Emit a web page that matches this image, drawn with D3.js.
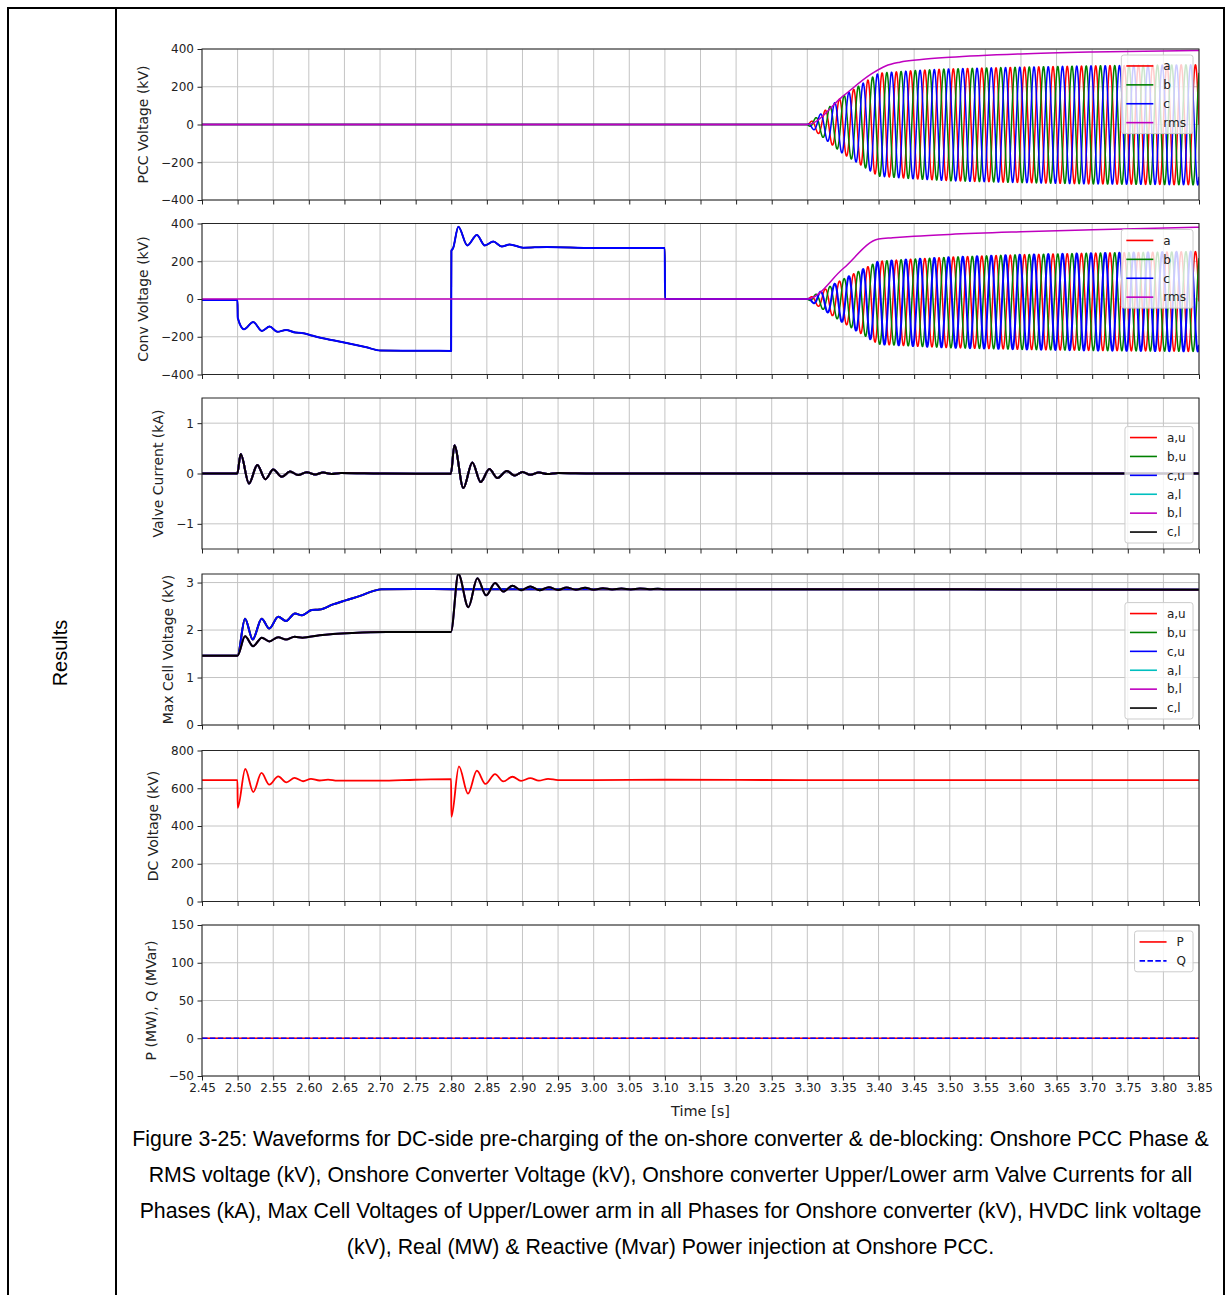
<!DOCTYPE html>
<html>
<head>
<meta charset="utf-8">
<script src="https://cdn.jsdelivr.net/npm/d3@7.8.5/dist/d3.min.js"></script>
<style>
  html, body { margin: 0; padding: 0; background: #fff; }
  svg { display: block; }
</style>
</head>
<body>
<div id="figure"></div>
<script>
// ---------- values ----------
const timeTicks = [2.45, 2.50, 2.55, 2.60, 2.65, 2.70, 2.75, 2.80, 2.85, 2.90, 2.95, 3.00, 3.05, 3.10,
  3.15, 3.20, 3.25, 3.30, 3.35, 3.40, 3.45, 3.50, 3.55, 3.60, 3.65, 3.70, 3.75, 3.80, 3.85];

// AC side (50 Hz) switches in at 3.30 s; envelopes of the phase waves
const acFreq = 50;
const acStart = 3.30;
const envTime   = [3.30, 3.35, 3.40, 3.45, 3.50, 3.60, 3.70, 3.85];
const pccUpper  = [0, 150, 272, 286, 295, 304, 311, 317];
const pccLower  = [0, -155, -274, -288, -298, -308, -315, -320];
const convUpper = [0, 105, 200, 212, 222, 235, 243, 252];
const convLower = [0, -125, -240, -250, -258, -267, -273, -278];

// PCC voltage before energisation and rms values
const pccPreTime = [2.45, 3.30];
const pccPre     = [0, 0];
const pccRmsTime = [2.45, 3.30, 3.35, 3.39, 3.41, 3.43, 3.46, 3.50, 3.60, 3.70, 3.85];
const pccRms     = [0, 0, 150, 268, 310, 330, 344, 356, 374, 384, 392];

// converter voltage during DC-side pre-charging (all three phases equal)
const convDcTime = [2.45, 2.4998, 2.5002, 2.509, 2.522, 2.534, 2.545, 2.556, 2.568, 2.581, 2.59, 2.606,
  2.625, 2.653, 2.681, 2.70, 2.75, 2.7998, 2.8002, 2.8025, 2.810, 2.8225, 2.836, 2.847, 2.859, 2.871,
  2.882, 2.901, 2.934, 3.00, 3.0998, 3.1002, 3.30];
const convDc = [-5, -5, -100, -160, -122, -169, -146, -174, -164, -178, -180, -195,
  -212, -233, -256, -273, -274, -275, 255, 268, 383, 284, 339, 284, 304, 278,
  289, 272, 276, 270, 270, 0, 0];
const convRmsTime = [2.45, 3.30, 3.35, 3.40, 3.42, 3.45, 3.50, 3.60, 3.70, 3.85];
const convRms     = [0, 0, 160, 318, 324, 332, 342, 356, 367, 380];

// arm valve currents (all six arms overlap)
const valveTime = [2.45, 2.4995, 2.5043, 2.516, 2.5277, 2.539, 2.550, 2.562, 2.5736, 2.585, 2.597, 2.609,
  2.62, 2.632, 2.645, 2.70, 2.75, 2.7995, 2.8044, 2.817, 2.8296, 2.8413, 2.8535, 2.8647, 2.878, 2.889,
  2.90, 2.911, 2.923, 2.935, 2.95, 3.00, 3.85];
const valveCurrent = [0, 0, 0.385, -0.20, 0.17, -0.115, 0.08, -0.067, 0.04, -0.03, 0.027, -0.02,
  0.02, -0.01, 0.01, 0.0, -0.005, -0.005, 0.56, -0.29, 0.22, -0.17, 0.09, -0.09, 0.05, -0.04,
  0.03, -0.025, 0.02, -0.012, 0.01, 0.0, 0.0];

// max cell voltages, upper arms and lower arms
const cellUpperTime = [2.45, 2.4998, 2.5104, 2.5212, 2.5338, 2.5445, 2.557, 2.568, 2.5806, 2.59, 2.604,
  2.615, 2.634, 2.653, 2.672, 2.690, 2.702, 2.75, 2.80, 3.30, 3.85];
const cellUpper = [1.46, 1.46, 2.24, 1.80, 2.24, 2.03, 2.28, 2.19, 2.35, 2.31, 2.42,
  2.43, 2.54, 2.63, 2.72, 2.82, 2.86, 2.865, 2.86, 2.86, 2.85];
const cellLowerTime = [2.45, 2.4998, 2.5104, 2.5218, 2.534, 2.5445, 2.557, 2.568, 2.58, 2.591, 2.615,
  2.662, 2.709, 2.7995, 2.810, 2.824, 2.8366, 2.849, 2.8615, 2.873, 2.886, 2.898, 2.911, 2.924, 2.937,
  2.950, 2.962, 2.975, 2.988, 3.000, 3.013, 3.026, 3.039, 3.052, 3.065, 3.078, 3.09, 3.10, 3.30, 3.85];
const cellLower = [1.46, 1.46, 1.87, 1.66, 1.84, 1.76, 1.85, 1.80, 1.86, 1.84, 1.89,
  1.94, 1.96, 1.96, 3.18, 2.48, 3.09, 2.73, 2.99, 2.81, 2.93, 2.84, 2.915, 2.84, 2.90,
  2.845, 2.895, 2.85, 2.89, 2.85, 2.88, 2.855, 2.875, 2.855, 2.875, 2.86, 2.87, 2.86, 2.86, 2.85];

// HVDC link voltage
const dcTime = [2.45, 2.4998, 2.5001, 2.5108, 2.522, 2.5335, 2.5445, 2.557, 2.5685, 2.58, 2.592, 2.603,
  2.615, 2.627, 2.64, 2.70, 2.75, 2.7998, 2.8002, 2.8108, 2.8235, 2.836, 2.848, 2.8615, 2.873, 2.886,
  2.898, 2.911, 2.923, 2.936, 2.95, 3.00, 3.10, 3.30, 3.85];
const dcVoltage = [643, 643, 496, 702, 580, 681, 619, 663, 631, 655, 637, 650,
  641, 646, 640, 640, 645, 648, 449, 716, 571, 693, 623, 675, 636, 661,
  639, 654, 640, 650, 643, 643, 645, 643, 643];

// PCC power injection
const powerTime = [2.45, 3.85];
const realPower = [0, 0];
const reactivePower = [0, 0];

const captionLines = [
  'Figure 3-25: Waveforms for DC-side pre-charging of the on-shore converter & de-blocking: Onshore PCC Phase &',
  'RMS voltage (kV), Onshore Converter Voltage (kV), Onshore converter Upper/Lower arm Valve Currents for all',
  'Phases (kA), Max Cell Voltages of Upper/Lower arm in all Phases for Onshore converter (kV), HVDC link voltage',
  '(kV), Real (MW) & Reactive (Mvar) Power injection at Onshore PCC.'
];

const phaseShift = { a: 0, b: -2 * Math.PI / 3, c: 2 * Math.PI / 3 };

class WaveformFigure {
  constructor() {
    this.width = 1227;
    this.height = 1295;
    this.plotLeft = 202;
    this.plotRight = 1199;
    this.panelTops = [49, 223.5, 398, 574, 750.5, 925];
    this.panelHeight = 151;
    this.colors = { r: '#ff0000', g: '#008000', b: '#0000ff', c: '#00bfbf', m: '#bf00bf', k: '#000000' };
    this.x = d3.scaleLinear().domain([2.45, 3.85]).range([this.plotLeft, this.plotRight]);
    this.init();
  }

  init() {
    this.setupSVG();
    this.drawTable();
    this.buildPanels().forEach((p, i) => this.drawPanel(p, i));
    this.drawCaption();
  }

  setupSVG() {
    this.svg = d3.select('#figure')
      .append('svg')
      .attr('width', this.width)
      .attr('height', this.height);
    this.svg.append('rect').attr('width', this.width).attr('height', this.height).attr('fill', '#fff');
    this.defs = this.svg.append('defs');
  }

  drawTable() {
    const g = this.svg.append('g').attr('stroke', '#000').attr('stroke-width', 2);
    g.append('line').attr('x1', 7).attr('x2', 1225).attr('y1', 8).attr('y2', 8);
    g.append('line').attr('x1', 8).attr('x2', 8).attr('y1', 7).attr('y2', this.height);
    g.append('line').attr('x1', 116).attr('x2', 116).attr('y1', 7).attr('y2', this.height);
    g.append('line').attr('x1', 1224).attr('x2', 1224).attr('y1', 7).attr('y2', this.height);

    this.svg.append('text')
      .attr('transform', 'translate(67,653) rotate(-90)')
      .attr('text-anchor', 'middle')
      .style('font-family', "'Liberation Sans', Arial, sans-serif")
      .style('font-size', '20px')
      .text('Results');
  }

  zip(ts, vs) {
    return ts.map((t, i) => [t, vs[i]]);
  }

  // phase wave between upper/lower envelopes after the AC side is switched in
  acWave(shift, upper, lower) {
    const up = d3.scaleLinear().domain(envTime).range(upper);
    const lo = d3.scaleLinear().domain(envTime).range(lower);
    const w = 2 * Math.PI * acFreq;
    return d3.range(acStart + 0.0002, 3.85 + 1e-9, 0.0002).map(t => {
      const mid = (up(t) + lo(t)) / 2, half = (up(t) - lo(t)) / 2;
      return [t, mid + half * Math.sin(w * (t - acStart) + shift)];
    });
  }

  buildPanels() {
    const pcc = k => this.zip(pccPreTime, pccPre).concat(this.acWave(phaseShift[k], pccUpper, pccLower));
    const conv = k => this.zip(convDcTime, convDc).concat(this.acWave(phaseShift[k], convUpper, convLower));
    const valve = this.zip(valveTime, valveCurrent);
    const up = this.zip(cellUpperTime, cellUpper);
    const low = this.zip(cellLowerTime, cellLower);
    const C = this.colors;
    const armLabels = ['a,u', 'b,u', 'c,u', 'a,l', 'b,l', 'c,l'];
    const armColors = [C.r, C.g, C.b, C.c, C.m, C.k];

    return [
      {
        label: 'PCC Voltage (kV)', domain: [-400, 400], ticks: [-400, -200, 0, 200, 400], legendLoc: 'upper',
        series: [
          { name: 'a', color: C.r, data: pcc('a') },
          { name: 'b', color: C.g, data: pcc('b') },
          { name: 'c', color: C.b, data: pcc('c') },
          { name: 'rms', color: C.m, data: this.zip(pccRmsTime, pccRms) }
        ]
      },
      {
        label: 'Conv Voltage (kV)', domain: [-400, 400], ticks: [-400, -200, 0, 200, 400], legendLoc: 'upper',
        series: [
          { name: 'a', color: C.r, data: conv('a') },
          { name: 'b', color: C.g, data: conv('b') },
          { name: 'c', color: C.b, data: conv('c'), width: 2 },
          { name: 'rms', color: C.m, data: this.zip(convRmsTime, convRms) }
        ]
      },
      {
        label: 'Valve Current (kA)', domain: [-1.5, 1.5], ticks: [-1, 0, 1], legendLoc: 'lower',
        series: armLabels.map((n, i) => ({ name: n, color: armColors[i], data: valve, width: 2 }))
      },
      {
        label: 'Max Cell Voltage (kV)', domain: [0, 3.18], ticks: [0, 1, 2, 3], legendLoc: 'lower',
        series: armLabels.map((n, i) => ({ name: n, color: armColors[i], data: i < 3 ? up : low, width: 2 }))
      },
      {
        label: 'DC Voltage (kV)', domain: [0, 800], ticks: [0, 200, 400, 600, 800], legendLoc: null,
        series: [{ name: 'dc', color: C.r, data: this.zip(dcTime, dcVoltage), width: 1.8 }]
      },
      {
        label: 'P (MW), Q (MVar)', domain: [-50, 150], ticks: [-50, 0, 50, 100, 150], legendLoc: 'upper',
        xLabels: true,
        series: [
          { name: 'P', color: C.r, data: this.zip(powerTime, realPower) },
          { name: 'Q', color: C.b, data: this.zip(powerTime, reactivePower), dash: '5.5,2.4' }
        ]
      }
    ];
  }

  drawPanel(p, i) {
    const top = this.panelTops[i], bottom = top + this.panelHeight;
    const y = d3.scaleLinear().domain(p.domain).range([bottom, top]);
    const g = this.svg.append('g').attr('class', 'panel');
    const fmt = d => (d < 0 ? '\u2212' : '') + Math.abs(d);

    // grid
    g.append('g').selectAll('line').data(timeTicks).enter().append('line')
      .attr('x1', d => this.x(d)).attr('x2', d => this.x(d))
      .attr('y1', top).attr('y2', bottom)
      .attr('stroke', '#c4c4c4').attr('stroke-width', 1);
    g.append('g').selectAll('line').data(p.ticks).enter().append('line')
      .attr('x1', this.plotLeft).attr('x2', this.plotRight)
      .attr('y1', d => y(d)).attr('y2', d => y(d))
      .attr('stroke', '#c4c4c4').attr('stroke-width', 1);

    // lines
    const clipId = 'clip' + i;
    this.defs.append('clipPath').attr('id', clipId).append('rect')
      .attr('x', this.plotLeft).attr('y', top)
      .attr('width', this.plotRight - this.plotLeft).attr('height', this.panelHeight);
    const line = d3.line().x(d => this.x(d[0])).y(d => y(d[1])).curve(d3.curveMonotoneX);
    const lines = g.append('g').attr('clip-path', `url(#${clipId})`);
    p.series.forEach(s => {
      lines.append('path')
        .attr('d', line(s.data))
        .attr('fill', 'none')
        .attr('stroke', s.color)
        .attr('stroke-width', s.width || 1.5)
        .attr('stroke-dasharray', s.dash || null)
        .attr('stroke-linejoin', 'round');
    });

    // axes
    const yAxis = g.append('g')
      .attr('transform', `translate(${this.plotLeft},0)`)
      .call(d3.axisLeft(y).tickValues(p.ticks).tickSize(4.5).tickPadding(3.5).tickFormat(fmt));
    const xAxis = g.append('g')
      .attr('transform', `translate(0,${bottom})`)
      .call(d3.axisBottom(this.x).tickValues(timeTicks).tickSize(4.5).tickPadding(3)
        .tickFormat(p.xLabels ? d => d.toFixed(2) : ''));
    [yAxis, xAxis].forEach(a => {
      a.select('.domain').remove();
      a.selectAll('.tick line').attr('stroke', '#222').attr('stroke-width', 1);
      a.selectAll('.tick text')
        .attr('fill', '#222')
        .style('font-family', "'DejaVu Sans', sans-serif")
        .style('font-size', '12px');
    });

    g.append('rect')
      .attr('x', this.plotLeft).attr('y', top)
      .attr('width', this.plotRight - this.plotLeft).attr('height', this.panelHeight)
      .attr('fill', 'none').attr('stroke', '#262626').attr('stroke-width', 1);

    // y label sits just left of the widest tick label, as matplotlib does
    const bb = yAxis.node().getBBox();
    g.append('text')
      .attr('transform', `translate(${this.plotLeft + bb.x - 13},${(top + bottom) / 2}) rotate(-90)`)
      .attr('text-anchor', 'middle')
      .attr('fill', '#222')
      .style('font-family', "'DejaVu Sans', sans-serif")
      .style('font-size', '14px')
      .text(p.label);

    if (p.xLabels) {
      g.append('text')
        .attr('x', (this.plotLeft + this.plotRight) / 2)
        .attr('y', bottom + 40)
        .attr('text-anchor', 'middle')
        .attr('fill', '#222')
        .style('font-family', "'DejaVu Sans', sans-serif")
        .style('font-size', '14.5px')
        .text('Time [s]');
    }

    if (p.legendLoc) this.drawLegend(g, p, top, bottom);
  }

  drawLegend(g, p, top, bottom) {
    const rowH = 18.9, pad = 5, handle = 27, gap = 10;
    const n = p.series.length;
    const boxH = n * rowH + 3;
    const lg = g.append('g');
    const box = lg.append('rect')
      .attr('rx', 2.5)
      .attr('fill', '#fff').attr('fill-opacity', 0.8)
      .attr('stroke', '#cccccc').attr('stroke-width', 1);
    const items = lg.selectAll('g.item').data(p.series).enter().append('g').attr('class', 'item')
      .attr('transform', (d, i) => `translate(0,${(i + 0.5) * rowH + 1.5})`);
    items.append('line')
      .attr('x1', pad).attr('x2', pad + handle)
      .attr('stroke', d => d.color).attr('stroke-width', 1.6)
      .attr('stroke-dasharray', d => d.dash || null);
    const texts = items.append('text')
      .attr('x', pad + handle + gap).attr('dy', '0.36em')
      .attr('fill', '#222')
      .style('font-family', "'DejaVu Sans', sans-serif")
      .style('font-size', '12px')
      .text(d => d.name);
    const tw = d3.max(texts.nodes(), t => t.getComputedTextLength());
    const boxW = pad + handle + gap + tw + 7;
    box.attr('width', boxW).attr('height', boxH);
    const bx = this.plotRight - 6 - boxW;
    const by = p.legendLoc === 'upper' ? top + 6 : bottom - 6 - boxH;
    lg.attr('transform', `translate(${bx},${by})`);
  }

  drawCaption() {
    this.svg.append('g').selectAll('text').data(captionLines).enter().append('text')
      .attr('x', 670.5)
      .attr('y', (d, i) => 1146 + i * 36)
      .attr('text-anchor', 'middle')
      .attr('fill', '#000')
      .style('font-family', "'Liberation Sans', Arial, sans-serif")
      .style('font-size', '21.3px')
      .text(d => d);
  }
}

new WaveformFigure();
</script>
</body>
</html>
